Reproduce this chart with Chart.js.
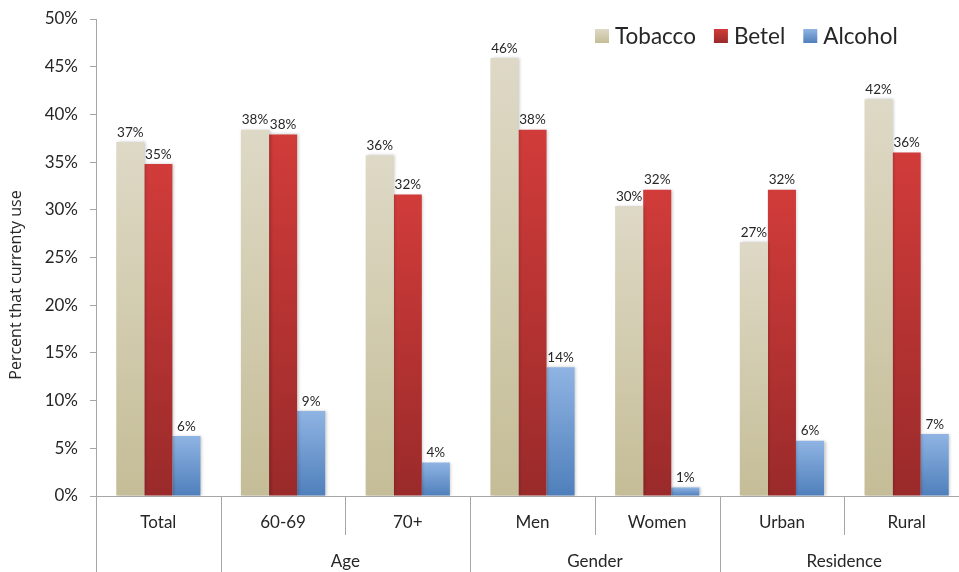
<!DOCTYPE html>
<html>
<head>
<meta charset="utf-8">
<title>Current use of tobacco, betel and alcohol</title>
<script src="https://cdn.jsdelivr.net/npm/chart.js@4.4.1/dist/chart.umd.min.js"></script>
<style>
    html, body { margin: 0; padding: 0; background: #fff; overflow: hidden; }
    #wrap { position: relative; width: 969px; height: 572px; }
</style>
</head>
<body>
<div id="wrap"><canvas id="useChart"></canvas></div>
<script>
// Chart data
const categories = ['Total', '60-69', '70+', 'Men', 'Women', 'Urban', 'Rural'];
const categoryGroups = ['', 'Age', 'Age', 'Gender', 'Gender', 'Residence', 'Residence'];
const tobacco = [37.1, 38.4, 35.7, 45.9, 30.4, 26.6, 41.6];
const betel = [34.8, 37.9, 31.6, 38.4, 32.1, 32.1, 36.0];
const alcohol = [6.3, 8.9, 3.5, 13.5, 0.9, 5.8, 6.5];
const yTicks = [0, 5, 10, 15, 20, 25, 30, 35, 40, 45, 50];
const yTitle = 'Percent that currenty use';

const FONT = 'Lato, "Open Sans", sans-serif';
const TEXT = '#262626';
const AXIS = '#a6a6a6';

// top / bottom colour of each series gradient
const seriesColors = {
    Tobacco: ['#ded9c6', '#c5bd97'],
    Betel: ['#d13c3a', '#9a2a2a'],
    Alcohol: ['#8fb4e3', '#4f7fbb']
};

/**
 * Per-bar vertical gradient
 */
function barGradient(name) {
    return function(context) {
        const chart = context.chart;
        const [top, bottom] = seriesColors[name];
        if (!chart.chartArea || context.raw === undefined) return top;
        const y = chart.scales.y;
        const y0 = y.getPixelForValue(context.raw);
        const y1 = y.getPixelForValue(0);
        const g = chart.ctx.createLinearGradient(0, y0, 0, Math.max(y1, y0 + 1));
        g.addColorStop(0, top);
        g.addColorStop(1, bottom);
        return g;
    };
}

/**
 * Soft shadow behind the bars
 */
const barShadow = {
    id: 'barShadow',
    beforeDatasetsDraw(chart) {
        const ctx = chart.ctx;
        ctx.save();
        ctx.shadowColor = 'rgba(0,0,0,0.22)';
        ctx.shadowBlur = 3;
        ctx.shadowOffsetX = 1.5;
        ctx.shadowOffsetY = 0;
    },
    afterDatasetsDraw(chart) {
        chart.ctx.restore();
    }
};

/**
 * Value labels above each bar
 */
const valueLabels = {
    id: 'valueLabels',
    afterDatasetsDraw(chart) {
        const ctx = chart.ctx;
        ctx.save();
        ctx.font = '13.5px ' + FONT;
        ctx.fillStyle = TEXT;
        ctx.textAlign = 'center';
        ctx.textBaseline = 'bottom';
        chart.data.datasets.forEach((ds, i) => {
            chart.getDatasetMeta(i).data.forEach((bar, j) => {
                ctx.fillText(Math.round(ds.data[j]) + '%', bar.x, bar.y - 3);
            });
        });
        ctx.restore();
    }
};

/**
 * Legend drawn inside the plot, top right
 */
const insideLegend = {
    id: 'insideLegend',
    afterDraw(chart) {
        const ctx = chart.ctx;
        ctx.save();
        ctx.font = '22.5px ' + FONT;
        ctx.textBaseline = 'middle';
        ctx.textAlign = 'left';
        let x = 595;
        const y = 36;
        chart.data.datasets.forEach(ds => {
            const [top, bottom] = seriesColors[ds.label];
            const g = ctx.createLinearGradient(0, y - 7, 0, y + 7);
            g.addColorStop(0, top);
            g.addColorStop(1, bottom);
            ctx.fillStyle = g;
            ctx.fillRect(x, y - 7, 14, 14);
            ctx.fillStyle = TEXT;
            ctx.fillText(ds.label, x + 20, y + 1);
            x += 20 + ctx.measureText(ds.label).width + 18;
        });
        ctx.restore();
    }
};

/**
 * Two-level category axis: dividers and group names, plus y title
 */
const groupAxis = {
    id: 'groupAxis',
    afterDraw(chart) {
        const ctx = chart.ctx;
        const x = chart.scales.x;
        const area = chart.chartArea;
        const bottom = chart.height;
        const edge = i => i === 0 ? area.left
            : i === categories.length ? area.right
            : (x.getPixelForValue(i - 1) + x.getPixelForValue(i)) / 2;

        ctx.save();
        ctx.strokeStyle = AXIS;
        ctx.lineWidth = 1;
        for (let i = 0; i <= categories.length; i++) {
            const full = i === 0 || i === categories.length || categoryGroups[i] !== categoryGroups[i - 1];
            const px = Math.round(edge(i)) + 0.5;
            ctx.beginPath();
            ctx.moveTo(px, area.bottom);
            ctx.lineTo(px, full ? bottom : area.bottom + 39);
            ctx.stroke();
        }

        // group names
        ctx.font = '17px ' + FONT;
        ctx.fillStyle = TEXT;
        ctx.textAlign = 'center';
        ctx.textBaseline = 'middle';
        let start = 0;
        for (let i = 1; i <= categories.length; i++) {
            if (i === categories.length || categoryGroups[i] !== categoryGroups[start]) {
                if (categoryGroups[start]) {
                    ctx.fillText(categoryGroups[start], (edge(start) + edge(i)) / 2, area.bottom + 66);
                }
                start = i;
            }
        }

        // y axis title
        ctx.font = '16px "Open Sans", sans-serif';
        ctx.translate(16, 285);
        ctx.rotate(-Math.PI / 2);
        ctx.fillText(yTitle, 0, 0);
        ctx.restore();
    }
};

const chart = new Chart(document.getElementById('useChart'), {
    type: 'bar',
    data: {
        labels: categories,
        datasets: [
            { label: 'Tobacco', data: tobacco, backgroundColor: barGradient('Tobacco') },
            { label: 'Betel', data: betel, backgroundColor: barGradient('Betel') },
            { label: 'Alcohol', data: alcohol, backgroundColor: barGradient('Alcohol') }
        ]
    },
    options: {
        responsive: true,
        maintainAspectRatio: false,
        animation: false,
        layout: { padding: { top: 19, left: 0, right: 0, bottom: 0 } },
        datasets: {
            bar: { categoryPercentage: 0.675, barPercentage: 1, borderWidth: 0 }
        },
        plugins: {
            legend: { display: false },
            tooltip: { enabled: false }
        },
        scales: {
            x: {
                grid: { display: true, drawOnChartArea: false, drawTicks: false },
                border: { display: true, color: AXIS },
                ticks: { color: TEXT, font: { family: FONT, size: 17 }, padding: 16 },
                afterFit(scale) {
                    scale.height = 76;
                    scale.paddingLeft = 0;
                    scale.paddingRight = 0;
                }
            },
            y: {
                min: 0,
                max: 50,
                afterBuildTicks(scale) { scale.ticks = yTicks.map(v => ({ value: v })); },
                grid: { drawOnChartArea: false, drawTicks: true, tickLength: 6, color: AXIS },
                border: { display: true, color: AXIS },
                ticks: {
                    color: TEXT,
                    font: { family: FONT, size: 17 },
                    padding: 12,
                    callback: v => v + '%'
                },
                afterFit(scale) {
                    scale.width = 96;
                    scale.paddingTop = 0;
                    scale.paddingBottom = 0;
                }
            }
        }
    },
    plugins: [barShadow, valueLabels, insideLegend, groupAxis]
});
</script>
</body>
</html>
